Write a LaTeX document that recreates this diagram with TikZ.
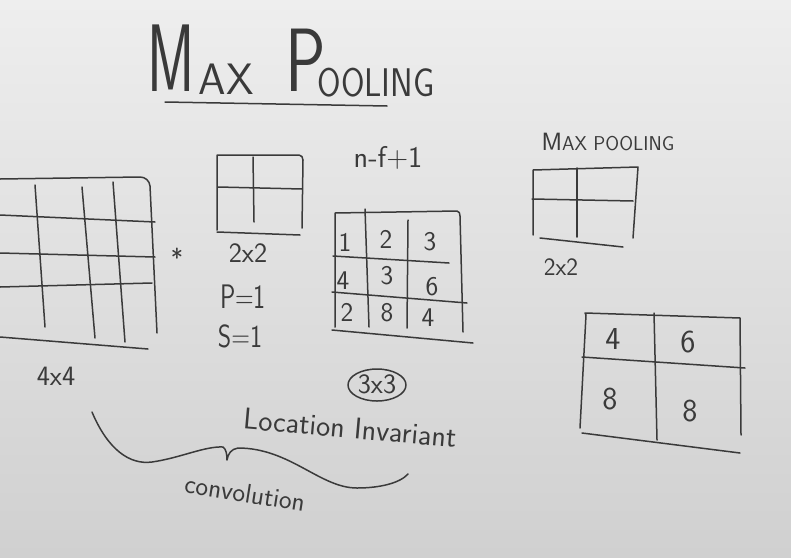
\documentclass[tikz,border=0pt]{standalone}
\usepackage{fontspec}
\definecolor{inkc}{RGB}{58,58,58}
\definecolor{boardtop}{RGB}{238,238,238}
\definecolor{boardbot}{RGB}{208,208,208}
\newcommand{\fsz}[1]{\fontsize{#1}{#1}\selectfont}
\begin{document}
\begin{tikzpicture}[x=1pt,y=-1pt,
  ink/.style={draw=inkc, line width=1.5pt, line cap=round, line join=round},
  hw/.style={text=inkc, font=\sffamily, inner sep=0pt, anchor=center}]
\shade[top color=boardtop, bottom color=boardbot] (0,0) rectangle (791,557);
\useasboundingbox (0,0) rectangle (791,557);

% ---- title ----
\node[hw, xscale=0.6, font=\sffamily\fsz{96}] (tM) at (171,58) {M};
\node[hw, font=\sffamily\fsz{44}] (tAX) at (226,79) {AX};
\node[hw, xscale=0.75, font=\sffamily\fsz{90}] (tP) at (306,60) {P};
\node[hw, xscale=0.85, font=\sffamily\fsz{40}] (tOOL) at (376,83) {OOLING};
\draw[ink] (165,102) -- (387,106);

% ---- left 4x4 input ----
\draw[ink] (0,179) -- (140,177) to[out=0,in=95] (150,186) -- (157,333);
\draw[ink] (0,337) -- (148,349);
\draw[ink] (0,215) -- (155,222);
\draw[ink] (0,253) -- (155,257);
\draw[ink] (0,287) -- (152,283);
\draw[ink] (35,185) -- (45,327);
\draw[ink] (82,187) -- (95,338);
\draw[ink] (113,182) -- (125,342);
\node[hw, font=\sffamily\fsz{28}] (l44) at (56,376) {4x4};
\node[hw, font=\sffamily\fsz{26}] (star) at (177,258) {*};

% ---- 2x2 filter ----
\draw[ink] (217,230) -- (217,155) -- (299,155) to[out=0,in=90] (303,160) -- (302,228);
\draw[ink] (217,232) -- (300,235);
\draw[ink] (253,157) -- (254,222);
\draw[ink] (218,187) -- (302,189);
\node[hw, font=\sffamily\fsz{28}] (l22) at (248,253) {2x2};
\node[hw, xscale=0.75, font=\sffamily\fsz{34}] (pp) at (243,297) {P=1};
\node[hw, xscale=0.8, font=\sffamily\fsz{32}] (ss) at (240,336) {S=1};

% ---- 3x3 output of convolution ----
\node[hw, font=\sffamily\fsz{30}] (nf) at (388,158) {n-f+1};
\draw[ink] (335,327) -- (335,213) -- (457,211) to[out=0,in=90] (460,216) -- (463,332);
\draw[ink] (365,209) -- (369,327);
\draw[ink] (408,220) -- (407,328);
\draw[ink] (333,256) -- (449,263);
\draw[ink] (332,292) -- (467,303);
\draw[ink] (332,330) -- (473,343);
\begin{scope}[every node/.style={hw, font=\sffamily\fsz{27}}]
\node (c11) at (345,242) {1};
\node (c12) at (386,239) {2};
\node (c13) at (430,242) {3};
\node (c21) at (343,281) {4};
\node (c22) at (387,276) {3};
\node (c23) at (432,287) {6};
\node (c31) at (347,312) {2};
\node (c32) at (387,313) {8};
\node (c33) at (428,318) {4};
\end{scope}
\node[hw, font=\sffamily\fsz{28}] (l33) at (377,384) {3x3};
\draw[ink] (377,385) ellipse [x radius=29, y radius=16];

% ---- max pooling ----
\node[hw, font=\sffamily\fsz{25}] (mp) at (608,142) {M{\fsz{20}AX POOLING}};
\draw[ink] (533,235) -- (533,170) -- (638,167) -- (633,238);
\draw[ink] (577,168) -- (577,237);
\draw[ink] (532,199) -- (633,201);
\draw[ink] (540,238) -- (623,247);
\node[hw, font=\sffamily\fsz{25}] (lp22) at (561,267) {2x2};

% ---- pooled output ----
\draw[ink] (580,428) -- (586,315) -- (585,313) -- (740,318) -- (741,435);
\draw[ink] (654,313) -- (657,440);
\draw[ink] (582,357) -- (745,368);
\draw[ink] (582,433) -- (740,453);
\begin{scope}[every node/.style={hw, font=\sffamily\fsz{32}}]
\node (o11) at (613,339) {4};
\node (o12) at (688,342) {6};
\node (o21) at (610,399) {8};
\node (o22) at (690,411) {8};
\end{scope}

% ---- bottom notes ----
\node[hw, rotate=-5, font=\sffamily\fsz{30}] (loc) at (350,428) {Location Invariant};
\draw[ink] (92,412) .. controls (108,450) and (130,465) .. (152,462)
  .. controls (180,458) and (205,446) .. (223,447)
  .. controls (226,449) and (227,454) .. (227,460)
  .. controls (228,454) and (231,449) .. (238,448)
  .. controls (290,448) and (320,488) .. (357,488)
  .. controls (380,488) and (400,483) .. (408,474);
\node[hw, rotate=-9, font=\sffamily\fsz{27}] (conv) at (245,493) {convolution};
\end{tikzpicture}
\end{document}
